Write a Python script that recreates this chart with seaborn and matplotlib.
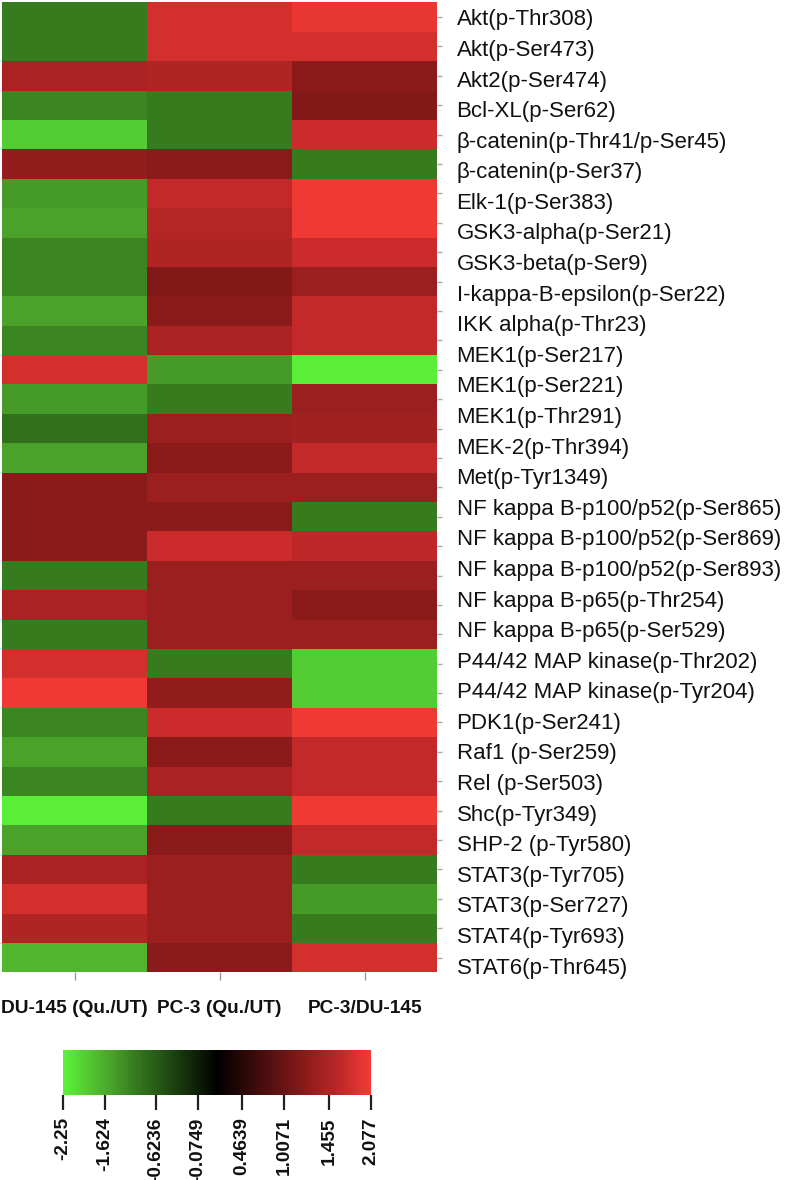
import numpy as np
import pandas as pd
import matplotlib
matplotlib.use("Agg")
import matplotlib.pyplot as plt
import seaborn as sns
from matplotlib.colors import LinearSegmentedColormap, FuncNorm

plt.rcParams['font.family'] = ['Liberation Sans', 'DejaVu Sans']

samples = ['DU-145 (Qu./UT)', 'PC-3 (Qu./UT)', 'PC-3/DU-145']

proteins = [
    'Akt(p-Thr308)', 'Akt(p-Ser473)', 'Akt2(p-Ser474)', 'Bcl-XL(p-Ser62)',
    'β-catenin(p-Thr41/p-Ser45)', 'β-catenin(p-Ser37)', 'Elk-1(p-Ser383)',
    'GSK3-alpha(p-Ser21)', 'GSK3-beta(p-Ser9)', 'I-kappa-B-epsilon(p-Ser22)',
    'IKK alpha(p-Thr23)', 'MEK1(p-Ser217)', 'MEK1(p-Ser221)', 'MEK1(p-Thr291)',
    'MEK-2(p-Thr394)', 'Met(p-Tyr1349)', 'NF kappa B-p100/p52(p-Ser865)',
    'NF kappa B-p100/p52(p-Ser869)', 'NF kappa B-p100/p52(p-Ser893)',
    'NF kappa B-p65(p-Thr254)', 'NF kappa B-p65(p-Ser529)',
    'P44/42 MAP kinase(p-Thr202)', 'P44/42 MAP kinase(p-Tyr204)',
    'PDK1(p-Ser241)', 'Raf1 (p-Ser259)', 'Rel (p-Ser503)', 'Shc(p-Tyr349)',
    'SHP-2 (p-Tyr580)', 'STAT3(p-Tyr705)', 'STAT3(p-Ser727)',
    'STAT4(p-Tyr693)', 'STAT6(p-Thr645)',
]

# the heatmap has 33 rows (one more than the labels)
du145 = [-1.05, -1.05, 1.42, -1.15, -1.9, 1.26, -1.4, -1.5, -1.15, -1.15, -1.5,
         -1.15, 1.80, -1.4, -0.9, -1.5, 1.22, 1.22, 1.22, -1.05, 1.42, -1.05,
         1.80, 2.05, -1.15, -1.5, -1.15, -2.2, -1.5, 1.42, 1.80, 1.47, -1.7]
pc3 = [1.80, 1.80, 1.47, -1.05, -1.05, 1.22, 1.66, 1.53, 1.47, 1.15, 1.22,
       1.42, -1.4, -1.05, 1.32, 1.22, 1.32, 1.22, 1.72, 1.32, 1.32, 1.32,
       -1.05, 1.26, 1.72, 1.22, 1.42, -1.05, 1.22, 1.32, 1.32, 1.32, 1.22]
pc3_du145 = [1.98, 1.80, 1.22, 1.15, 1.72, -1.05, 2.05, 2.05, 1.72, 1.32, 1.66,
             1.66, -2.2, 1.32, 1.36, 1.66, 1.32, -1.05, 1.60, 1.32, 1.22, 1.32,
             -1.9, -1.9, 2.05, 1.66, 1.66, 2.05, 1.66, -1.05, -1.4, -1.05, 1.80]

cbar_ticks = [-2.25, -1.624, -0.6236, -0.0749, 0.4639, 1.0071, 1.455, 2.077]
cbar_labels = ['-2.25', '-1.624', '-0.6236', '-0.0749', '0.4639', '1.0071', '1.455', '2.077']

df = pd.DataFrame({samples[0]: du145, samples[1]: pc3, samples[2]: pc3_du145})

# colour bar in the original is not linear: ticks sit at these fractions
tick_frac = [0.006, 0.14, 0.305, 0.438, 0.581, 0.717, 0.860, 0.994]
norm = FuncNorm((lambda v: np.interp(v, cbar_ticks, tick_frac),
                 lambda f: np.interp(f, tick_frac, cbar_ticks)),
                vmin=cbar_ticks[0], vmax=cbar_ticks[-1])

cmap = LinearSegmentedColormap.from_list('gkr', [
    (0.0, '#5cf23a'), (0.16, '#4aa02a'), (0.235, '#357a1e'), (0.503, '#000000'),
    (0.785, '#8a1a1a'), (0.904, '#c02828'), (1.0, '#f23a34')])

fig = plt.figure(figsize=(7.87, 11.8), dpi=100)
ax = fig.add_axes([0.0025, 0.176, 0.553, 0.822])
cax = fig.add_axes([0.080, 0.072, 0.391, 0.038])

sns.heatmap(df, ax=ax, cbar_ax=cax, cmap=cmap, norm=norm,
            xticklabels=samples, yticklabels=False,
            cbar_kws={'orientation': 'horizontal'})

n_rows = len(df)
ax.yaxis.tick_right()
ax.set_yticks(np.linspace(0.51, n_rows - 0.23, len(proteins)))
ax.set_yticklabels(proteins, fontsize=16, color='#111111')
ax.set_yticks(np.arange(n_rows) + 0.5, minor=True)
ax.tick_params(axis='y', which='major', length=0, pad=14, left=False, right=True)
ax.tick_params(axis='y', which='minor', length=3.5, width=1, color='#aaaaaa',
               left=False, right=True)

ax.tick_params(axis='x', length=6, width=1, color='#999999', pad=14)
ax.set_xticklabels(samples, rotation=0, fontsize=13.8, fontweight='bold', color='#111111')
ax.set_xlabel('')
ax.set_ylabel('')

cb = ax.collections[0].colorbar
cb.set_ticks(cbar_ticks)
cax.minorticks_off()
cax.set_xticklabels(cbar_labels, fontsize=13.7, fontweight='bold', rotation=90,
                    color='#111111')
cax.tick_params(axis='x', length=11, width=1.6, color='#222222', pad=5)

fig.savefig('out.png', dpi=100)
